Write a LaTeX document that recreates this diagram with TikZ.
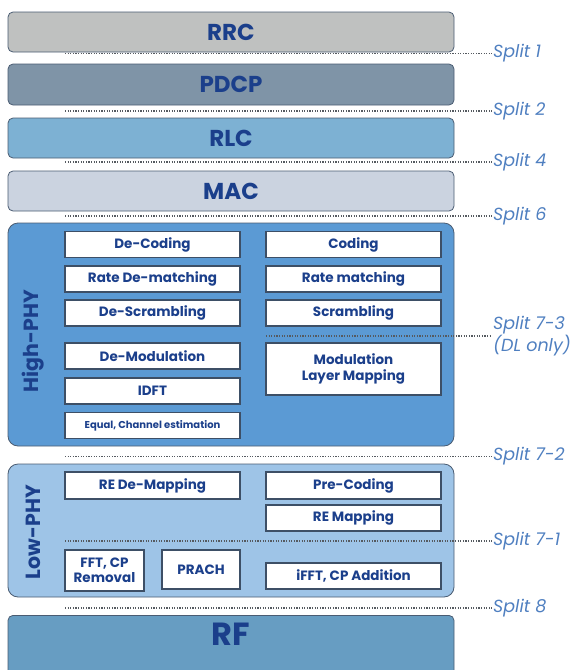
\documentclass[tikz,border=0pt]{standalone}
\usepackage{fontspec}
\setmainfont{Poppins}
\usepackage{tikz}
\definecolor{navy}{HTML}{1B3F8B}
\definecolor{splitcol}{HTML}{4F7FC0}
\definecolor{dotcol}{HTML}{555A60}
\definecolor{layerline}{HTML}{4A5C72}
\definecolor{boxline}{HTML}{3D4F66}
\definecolor{rrccol}{HTML}{BFC1C0}
\definecolor{pdcpcol}{HTML}{7F94A7}
\definecolor{rlccol}{HTML}{7DB1D3}
\definecolor{maccol}{HTML}{CBD3E0}
\definecolor{highcol}{HTML}{5B9AD4}
\definecolor{lowcol}{HTML}{9EC4E7}
\definecolor{rfcol}{HTML}{679DC2}

\begin{document}
\begin{tikzpicture}[x=1pt, y=-1pt,
    layer/.style={draw=layerline, line width=0.8pt, rounded corners=5pt, minimum width=446pt,
      text=navy, font=\bfseries\fontsize{23}{26}\selectfont},
    phy/.style={layer, rounded corners=10pt},
    fnbox/.style={draw=boxline, line width=1.3pt, fill=white, minimum width=175pt, minimum height=26pt,
      inner sep=1pt, text=navy, align=center, font=\bfseries\fontsize{13.5}{15.5}\selectfont},
    phylabel/.style={rotate=90, text=navy, font=\bfseries\fontsize{20.5}{24}\selectfont},
    splitline/.style={draw=dotcol, line width=1.1pt, dash pattern=on 1.1pt off 1.5pt},
    splitlabel/.style={anchor=west, text=splitcol, align=left, inner sep=1pt,
      font=\itshape\fontsize{17.5}{20}\selectfont}]
  \clip (0,0) rectangle (576,670);
  % Layers
  \foreach \n/\c/\y/\h/\t in {rrc/rrccol/32/40/RRC, pdcp/pdcpcol/84.5/41/PDCP, rlc/rlccol/138/40/RLC, mac/maccol/191/40/MAC} {
    \node[layer, fill=\c, minimum height=\h pt] (\n) at (231,\y) {\t};
  }
  \node[phy, fill=highcol, minimum height=223pt] (high) at (231,334.5) {};
  \node[phy, fill=lowcol, minimum height=133pt] (low) at (231,530.5) {};
  \node[layer, fill=rfcol, minimum height=80pt, anchor=north] (rf) at (231,615) {};
  \node[text=navy, font=\bfseries\fontsize{32}{36}\selectfont] (rflbl) at (231,634) {RF};
  \node[phylabel] (highlbl) at (33,341) {High-PHY};
  \node[phylabel] (lowlbl) at (33,532) {Low-PHY};
  % High-PHY blocks
  \foreach \n/\x/\y/\t in {dcod/152.5/244.5/De-Coding, rdm/152.5/279/Rate De-matching, dscr/152.5/313/De-Scrambling,
      dmod/152.5/356/De-Modulation, idft/152.5/391/IDFT,
      cod/353.5/244.5/Coding, rm/353.5/279/Rate matching, scr/353.5/313/Scrambling} {
    \node[fnbox] (\n) at (\x,\y) {\t};
  }
  \node[fnbox, font=\bfseries\fontsize{10}{12}\selectfont] (eq) at (152.5,425.5) {Equal, Channel estimation};
  \node[fnbox, minimum height=52pt] (mod) at (353.5,369) {Modulation\\Layer Mapping};
  % Low-PHY blocks
  \node[fnbox, minimum height=27pt] (redm) at (152.5,485.5) {RE De-Mapping};
  \node[fnbox, minimum height=27pt] (prec) at (353.5,485.5) {Pre-Coding};
  \node[fnbox] (rem) at (353.5,518) {RE Mapping};
  \node[fnbox, minimum width=79pt, minimum height=41pt] (fft) at (104.5,570.5) {FFT, CP\\Removal};
  \node[fnbox, minimum width=78pt, minimum height=39pt] (prach) at (201,569.5) {PRACH};
  \node[fnbox] (ifft) at (353.5,576) {iFFT, CP Addition};
  % Splits
  \foreach \i/\x/\y/\t in {1/65/53.5/Split 1, 2/65/111/Split 2, 4/65/162/Split 4, 6/65/216/Split 6,
      73/266/336/{Split 7-3\\(DL only)}, 72/65/456.5/Split 7-2, 71/65/541/Split 7-1, 8/65/608/Split 8} {
    \coordinate (c\i) at (\x,\y);
    \node[splitlabel] (s\i) at (492,\y) {\t};
    \draw[splitline] (c\i) -- (s\i.west);
  }
\end{tikzpicture}
\end{document}
